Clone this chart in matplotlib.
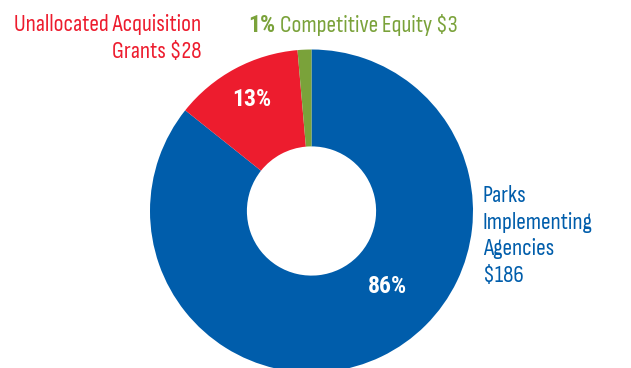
import matplotlib.pyplot as plt

# Funding split (millions of dollars)
categories = ["Parks Implementing Agencies", "Unallocated Acquisition Grants", "Competitive Equity"]
amounts = [186, 28, 3]
colors = ["#005dab", "#ed1c2e", "#7aa23a"]

total = sum(amounts)
pcts = [round(100 * a / total) for a in amounts]

plt.rcParams['font.family'] = ['Sofia Sans Condensed', 'DejaVu Sans']
bold_family = ['Roboto Condensed', 'DejaVu Sans']

fig = plt.figure(figsize=(6.31, 3.68), dpi=100)
W, H = 631, 368
cx, cy, r = 311.5, 211, 161.5
ax = fig.add_axes([(cx - r) / W, (H - cy - r) / H, 2 * r / W, 2 * r / H])

ax.pie(amounts, colors=colors, startangle=90, counterclock=False,
       radius=1, wedgeprops=dict(width=0.6, edgecolor='none'))
ax.set_xlim(-1, 1)
ax.set_ylim(-1, 1)
ax.set_aspect('equal')
ax.axis('off')


def fx(px):
    return px / W


def fy(py):
    return 1 - py / H


# size the label font so the widest red line spans ~187 px
probe = fig.text(0, 0, "Unallocated Acquisition", fontsize=18)
fig.canvas.draw()
fs = 18 * 187 / probe.get_window_extent().width
probe.remove()

# percentage labels inside the ring
ax.text(-0.37, 0.69, f"{pcts[1]}%", color='white', fontsize=fs, fontweight='bold',
        family=bold_family, ha='center', va='center')
ax.text(0.47, -0.47, f"{pcts[0]}%", color='white', fontsize=fs, fontweight='bold',
        family=bold_family, ha='center', va='center')

fig.text(fx(201), fy(31), "Unallocated Acquisition", color=colors[1], fontsize=fs,
         ha='right', va='baseline')
fig.text(fx(201), fy(58), f"Grants ${amounts[1]}", color=colors[1], fontsize=fs,
         ha='right', va='baseline')

t = fig.text(fx(248), fy(32), f"{pcts[2]}%", color=colors[2], fontsize=fs,
             fontweight='bold', family=bold_family, ha='left', va='baseline')
fig.canvas.draw()
bb = t.get_window_extent()
fig.text((bb.x1 + 5) / W, fy(32), f"Competitive Equity ${amounts[2]}", color=colors[2],
         fontsize=fs, ha='left', va='baseline')

for i, line in enumerate(["Parks", "Implementing", "Agencies", f"${amounts[0]}"]):
    fig.text(fx(483), fy(202 + 26.7 * i), line, color=colors[0], fontsize=fs,
             ha='left', va='baseline')

fig.savefig("out.png", dpi=100)
